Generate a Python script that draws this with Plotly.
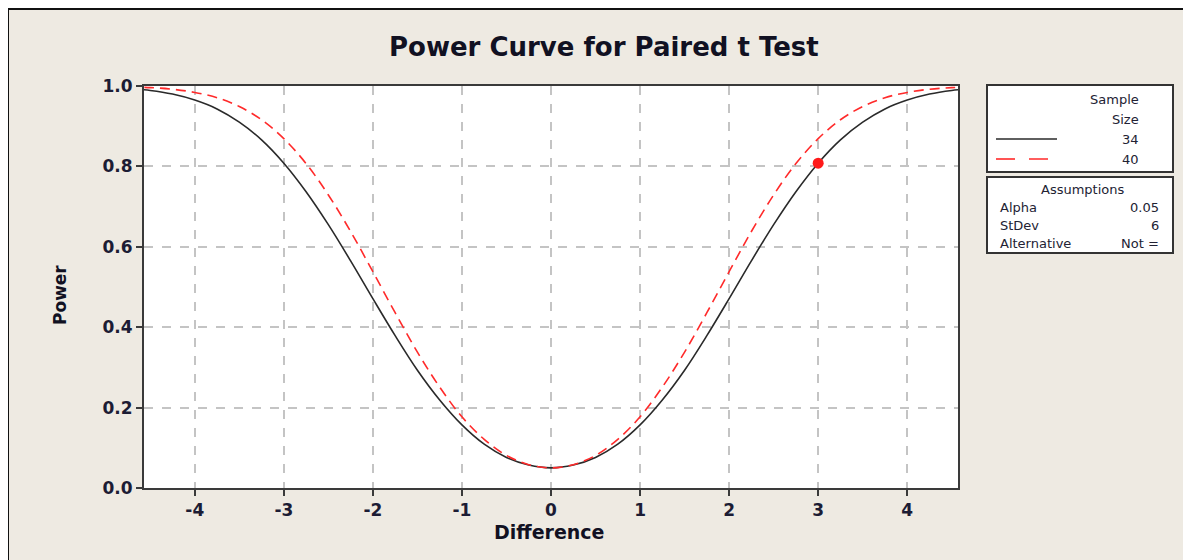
import plotly.graph_objects as go

# ---- data ----
difference = [-4.75, -4.5, -4.25, -4.0, -3.75, -3.5, -3.25, -3.0, -2.75, -2.5,
              -2.25, -2.0, -1.75, -1.5, -1.25, -1.0, -0.75, -0.5, -0.25, 0.0,
              0.25, 0.5, 0.75, 1.0, 1.25, 1.5, 1.75, 2.0, 2.25, 2.5,
              2.75, 3.0, 3.25, 3.5, 3.75, 4.0, 4.25, 4.5, 4.75]
power_n34 = [0.994, 0.989, 0.980, 0.965, 0.943, 0.910, 0.866, 0.808, 0.737, 0.655,
             0.565, 0.471, 0.379, 0.293, 0.219, 0.157, 0.109, 0.076, 0.057, 0.050,
             0.057, 0.076, 0.109, 0.157, 0.219, 0.293, 0.379, 0.471, 0.565, 0.655,
             0.737, 0.808, 0.866, 0.910, 0.943, 0.965, 0.980, 0.989, 0.994]
power_n40 = [0.998, 0.996, 0.992, 0.984, 0.971, 0.949, 0.916, 0.869, 0.807, 0.729,
             0.638, 0.538, 0.436, 0.338, 0.251, 0.177, 0.121, 0.081, 0.058, 0.050,
             0.058, 0.081, 0.121, 0.177, 0.251, 0.338, 0.436, 0.538, 0.638, 0.729,
             0.807, 0.869, 0.916, 0.949, 0.971, 0.984, 0.992, 0.996, 0.998]
target_diff = [3.0]
target_power = [0.808]

x_ticks = [-4, -3, -2, -1, 0, 1, 2, 3, 4]
y_ticks = [0.0, 0.2, 0.4, 0.6, 0.8, 1.0]
y_tick_labels = ["0.0", "0.2", "0.4", "0.6", "0.8", "1.0"]

sample_sizes = ["34", "40"]
assump_names = ["Alpha", "StDev", "Alternative"]
assump_vals = ["0.05", "6", "Not ="]

# ---- layout geometry (page pixels; page body has an 8px margin) ----
OFF = 8
W, H = 1191 - OFF, 560 - OFF
L, R, T, B = 144, 958, 86, 488


def px(x):
    return (x - L) / (R - L)


def py(y):
    return (B - y) / (B - T)


BG = "#EEEAE2"
TXT = "#1c1c34"
FONT = "DejaVu Sans"

fig = go.Figure()
fig.add_trace(go.Scatter(x=difference, y=power_n34, mode="lines",
                         line=dict(color="#2a2a2a", width=1.6, shape="spline"),
                         showlegend=False))
fig.add_trace(go.Scatter(x=difference, y=power_n40, mode="lines",
                         line=dict(color="#ff2a2a", width=1.6, dash="10px,6px",
                                   shape="spline"),
                         showlegend=False))
fig.add_trace(go.Scatter(x=target_diff, y=target_power, mode="markers",
                         marker=dict(color="#ff1a1a", size=11),
                         showlegend=False))

axis_common = dict(showline=True, linecolor="#3a3a3a", linewidth=2, mirror=True,
                   showgrid=True, gridcolor="#c4c4c4", griddash="dash", gridwidth=1.5,
                   zeroline=False, ticks="outside", ticklen=6, tickwidth=2,
                   tickcolor="#3a3a3a",
                   tickfont=dict(family=FONT, size=17, color=TXT, weight="bold"))

fig.update_layout(
    width=W, height=H,
    margin=dict(l=L - OFF, r=1191 - R, t=T - OFF, b=560 - B),
    paper_bgcolor=BG, plot_bgcolor="white",
    xaxis=dict(range=[-4.57, 4.57], tickvals=x_ticks,
               ticktext=[str(v) for v in x_ticks], **axis_common),
    yaxis=dict(range=[0, 1], tickvals=y_ticks, ticktext=y_tick_labels, **axis_common),
    showlegend=False,
)

shapes = []
annotations = []

# outer frame (left and top edges visible)
shapes.append(dict(type="rect", xref="paper", yref="paper",
                   x0=px(8), y0=py(575), x1=px(1210), y1=py(9),
                   line=dict(color="#111111", width=2), fillcolor="rgba(0,0,0,0)",
                   layer="below"))


def ann(text, x, y, size, xanchor="center", angle=0, color="#111122"):
    annotations.append(dict(text=text, xref="paper", yref="paper", x=px(x), y=py(y),
                            xanchor=xanchor, yanchor="middle", showarrow=False,
                            textangle=angle,
                            font=dict(family=FONT, size=size, color=color)))


# titles
ann("<b>Power Curve for Paired t Test</b>", 604, 47, 26)
ann("<b>Difference</b>", 549, 532, 19)
ann("<b>Power</b>", 60, 295, 17, angle=-90)

# legend box 1
shapes.append(dict(type="rect", xref="paper", yref="paper",
                   x0=px(987), y0=py(172), x1=px(1173), y1=py(85),
                   line=dict(color="#333333", width=2), fillcolor="white"))
# legend box 2
shapes.append(dict(type="rect", xref="paper", yref="paper",
                   x0=px(987), y0=py(253), x1=px(1173), y1=py(177),
                   line=dict(color="#333333", width=2), fillcolor="white"))

LC = "#222233"
LS = 13
ann("Sample", 1141, 99, LS, "right", color=LC)
ann("Size", 1141, 119, LS, "right", color=LC)
for label, ycen in zip(sample_sizes, [139, 159]):
    ann(label, 1141, ycen, LS, "right", color=LC)
# legend line samples
shapes.append(dict(type="line", xref="paper", yref="paper",
                   x0=px(996), y0=py(139), x1=px(1057), y1=py(139),
                   line=dict(color="#2a2a2a", width=1.6)))
shapes.append(dict(type="line", xref="paper", yref="paper",
                   x0=px(996), y0=py(159), x1=px(1057), y1=py(159),
                   line=dict(color="#ff2a2a", width=1.6, dash="19px,14px")))

ann("Assumptions", 1082, 189, LS, color=LC)
for name, val, ycen in zip(assump_names, assump_vals, [207, 225, 243]):
    ann(name, 998, ycen, LS, "left", color=LC)
    ann(val, 1161, ycen, LS, "right", color=LC)

fig.update_layout(shapes=shapes, annotations=annotations)
fig.write_html("out.html")
